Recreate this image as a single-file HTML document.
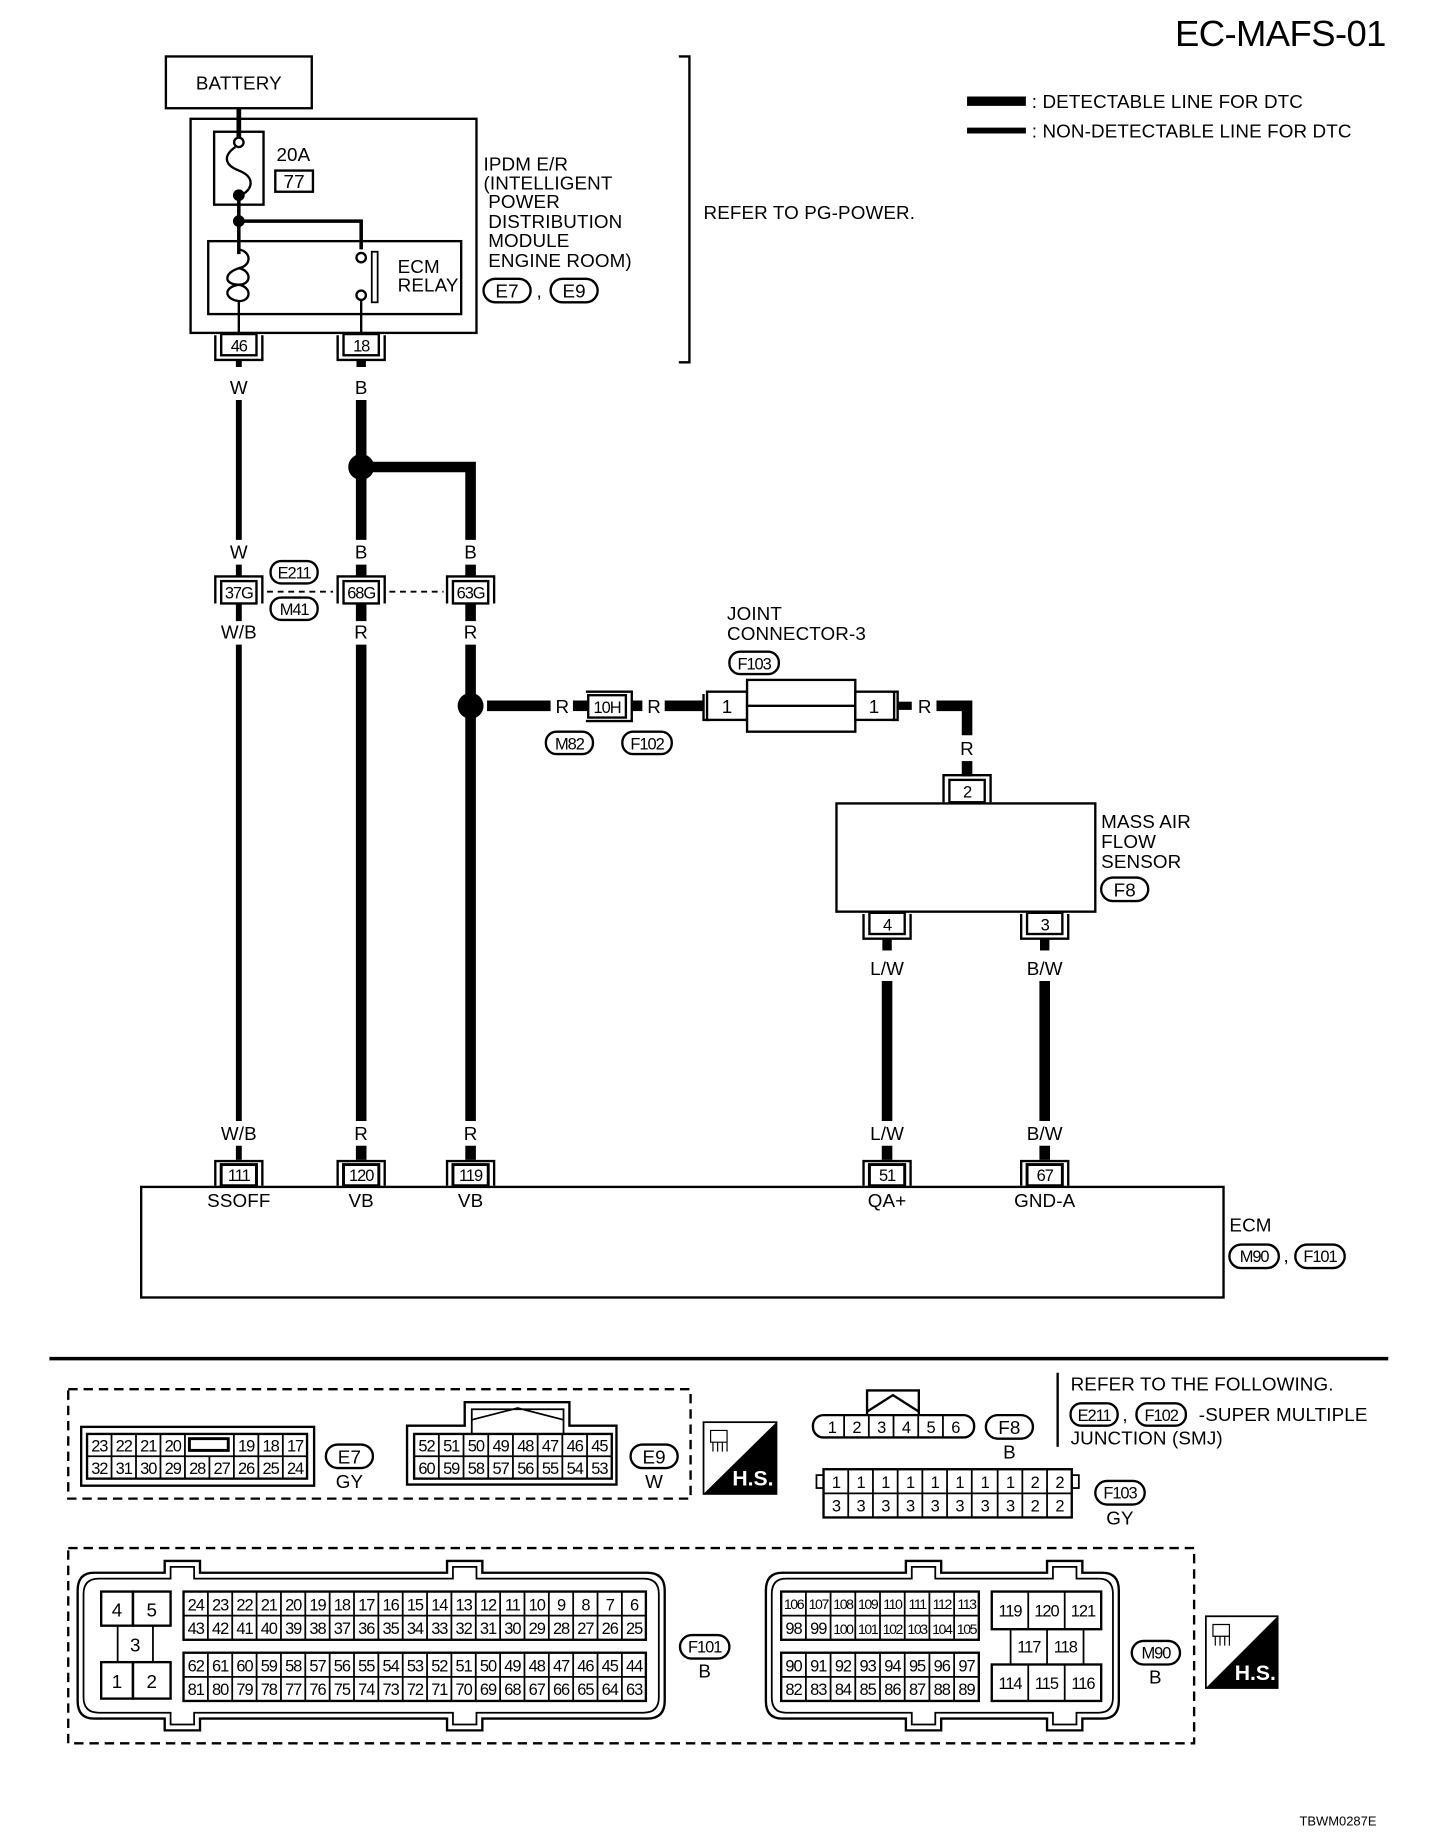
<!DOCTYPE html>
<html><head><meta charset="utf-8">
<style>
html,body{margin:0;padding:0;background:#fff;}
svg{display:block;}
text{font-family:"Liberation Sans",sans-serif;fill:#000;}
.t{font-size:16px;letter-spacing:0.1px;}
.c{font-size:14px;text-anchor:middle;letter-spacing:-0.9px;}
.m{text-anchor:middle;}
</style></head>
<body>
<svg width="1440" height="1848" viewBox="0 0 1224 1571" preserveAspectRatio="none" xmlns="http://www.w3.org/2000/svg">
<defs>
<g id="pd"><path d="M-20,1 V22 H20 V1" fill="none" stroke="#000" stroke-width="2"/><rect x="-15" y="0" width="30" height="18" fill="#fff" stroke="#000" stroke-width="2"/></g>
<g id="pu"><path d="M-20,22 V1 H20 V22" fill="none" stroke="#000" stroke-width="2"/><rect x="-15" y="4" width="30" height="18" fill="#fff" stroke="#000" stroke-width="2.5"/></g>
<g id="pm"><path d="M-20,23 V0 H20 V23" fill="none" stroke="#000" stroke-width="2"/><rect x="-15" y="4" width="30" height="19" fill="#fff" stroke="#000" stroke-width="2"/></g>
</defs>
<text x="1178" y="39" font-size="31" text-anchor="end" letter-spacing="-0.5">EC-MAFS-01</text>
<!-- legend -->
<line x1="822" y1="86" x2="872" y2="86" stroke="#000" stroke-width="8"/>
<line x1="822" y1="111" x2="872" y2="111" stroke="#000" stroke-width="5"/>
<text class="t" x="877" y="92">: DETECTABLE LINE FOR DTC</text>
<text class="t" x="877" y="117">: NON-DETECTABLE LINE FOR DTC</text>

<!-- battery & IPDM -->
<rect x="141" y="48" width="124" height="44" fill="none" stroke="#000" stroke-width="2"/>
<text class="t" x="203" y="76" text-anchor="middle">BATTERY</text>
<line x1="203" y1="92" x2="203" y2="120" stroke="#000" stroke-width="4"/>
<rect x="162" y="101" width="243" height="182" fill="none" stroke="#000" stroke-width="2"/>
<rect x="182" y="112" width="42" height="62" fill="none" stroke="#000" stroke-width="2"/>
<circle cx="203" cy="121" r="4" fill="#fff" stroke="#000" stroke-width="2"/>
<path d="M200,125 C190,132 190,140 203,145 C216,150 216,160 205,166" fill="none" stroke="#000" stroke-width="2"/>
<circle cx="203" cy="166" r="5" fill="#000"/>
<line x1="203" y1="166" x2="203" y2="216" stroke="#000" stroke-width="3"/>
<circle cx="203" cy="188" r="5" fill="#000"/>
<path d="M203,188 H307 V212" fill="none" stroke="#000" stroke-width="3"/>
<text class="t" x="235" y="137">20A</text>
<rect x="234" y="145" width="32" height="18" fill="none" stroke="#000" stroke-width="2"/>
<text class="t" x="250" y="160" text-anchor="middle">77</text>
<rect x="177" y="205" width="215" height="62" fill="none" stroke="#000" stroke-width="2"/>
<path d="M203,205 V212 C214,214 214,226 203,228 C190,232 190,242 203,242 C214,242 214,230 203,228 M203,242 C190,244 190,254 203,256 C214,256 214,244 203,242 M203,256 V283" fill="none" stroke="#000" stroke-width="2"/>
<circle cx="307" cy="219" r="4" fill="#fff" stroke="#000" stroke-width="2"/>
<circle cx="307" cy="251" r="4" fill="#fff" stroke="#000" stroke-width="2"/>
<line x1="307" y1="255" x2="307" y2="283" stroke="#000" stroke-width="2"/>
<rect x="316" y="214" width="5" height="43" fill="none" stroke="#000" stroke-width="1.5"/>
<text class="t" x="338" y="232">ECM</text>
<text class="t" x="338" y="248">RELAY</text>
<text class="t" x="411" y="145">IPDM E/R</text>
<text class="t" x="411" y="161">(INTELLIGENT</text>
<text class="t" x="415" y="177">POWER</text>
<text class="t" x="415" y="194">DISTRIBUTION</text>
<text class="t" x="415" y="210">MODULE</text>
<text class="t" x="415" y="227">ENGINE ROOM)</text>
<rect x="411" y="237" width="40" height="20" rx="10" fill="none" stroke="#000" stroke-width="2"/>
<text class="t m" x="431" y="253">E7</text>
<text class="t" x="456" y="253">,</text>
<rect x="468" y="237" width="40" height="20" rx="10" fill="none" stroke="#000" stroke-width="2"/>
<text class="t m" x="488" y="253">E9</text>
<path d="M577,48 H586 V308 H577" fill="none" stroke="#000" stroke-width="2"/>
<text class="t" x="598" y="186">REFER TO PG-POWER.</text>

<!-- pins 46,18 -->
<use href="#pd" x="203" y="284"/><text class="c" x="203" y="299">46</text>
<use href="#pd" x="307" y="284"/><text class="c" x="307" y="299">18</text>
<line x1="203" y1="306" x2="203" y2="312" stroke="#000" stroke-width="5"/>
<line x1="307" y1="306" x2="307" y2="312" stroke="#000" stroke-width="8"/>
<text class="t m" x="203" y="335">W</text>
<text class="t m" x="307" y="335">B</text>
<line x1="203" y1="340" x2="203" y2="459" stroke="#000" stroke-width="5"/>
<line x1="307" y1="340" x2="307" y2="459" stroke="#000" stroke-width="9"/>
<circle cx="307" cy="397" r="11" fill="#000"/>
<path d="M307,397 H400 V459" fill="none" stroke="#000" stroke-width="9"/>
<text class="t m" x="203" y="475">W</text>
<text class="t m" x="307" y="475">B</text>
<text class="t m" x="400" y="475">B</text>
<line x1="203" y1="480" x2="203" y2="490" stroke="#000" stroke-width="5"/>
<line x1="307" y1="480" x2="307" y2="490" stroke="#000" stroke-width="9"/>
<line x1="400" y1="480" x2="400" y2="490" stroke="#000" stroke-width="9"/>
<line x1="227" y1="503" x2="283" y2="503" stroke="#000" stroke-width="1.5" stroke-dasharray="5,4"/>
<line x1="331" y1="503" x2="377" y2="503" stroke="#000" stroke-width="1.5" stroke-dasharray="5,4"/>
<use href="#pm" x="203" y="490"/><text class="c" x="203" y="509">37G</text>
<use href="#pm" x="307" y="490"/><text class="c" x="307" y="509">68G</text>
<use href="#pm" x="400" y="490"/><text class="c" x="400" y="509">63G</text>
<rect x="230" y="477" width="40" height="19" rx="9" fill="#fff" stroke="#000" stroke-width="2"/><text class="c" x="250" y="492">E211</text>
<rect x="230" y="508" width="40" height="19" rx="9" fill="#fff" stroke="#000" stroke-width="2"/><text class="c" x="250" y="523">M41</text>
<line x1="203" y1="513" x2="203" y2="528" stroke="#000" stroke-width="5"/>
<line x1="307" y1="513" x2="307" y2="528" stroke="#000" stroke-width="9"/>
<line x1="400" y1="513" x2="400" y2="528" stroke="#000" stroke-width="9"/>
<text class="t m" x="203" y="543">W/B</text>
<text class="t m" x="307" y="543">R</text>
<text class="t m" x="400" y="543">R</text>
<line x1="203" y1="548" x2="203" y2="953" stroke="#000" stroke-width="5"/>
<line x1="307" y1="548" x2="307" y2="953" stroke="#000" stroke-width="9"/>
<line x1="400" y1="548" x2="400" y2="953" stroke="#000" stroke-width="9"/>
<circle cx="400" cy="600" r="11" fill="#000"/>
<line x1="414" y1="600" x2="468" y2="600" stroke="#000" stroke-width="9"/>
<text class="t m" x="478" y="606">R</text>
<line x1="487" y1="600" x2="500" y2="600" stroke="#000" stroke-width="9"/>
<path d="M498,588 H537 V613 H498" fill="none" stroke="#000" stroke-width="2"/>
<rect x="500" y="591" width="32" height="19" fill="#fff" stroke="#000" stroke-width="2"/>
<text class="c" x="516" y="606">10H</text>
<line x1="537" y1="600" x2="546" y2="600" stroke="#000" stroke-width="9"/>
<text class="t m" x="556" y="606">R</text>
<line x1="565" y1="600" x2="598" y2="600" stroke="#000" stroke-width="9"/>
<rect x="464" y="622" width="40" height="19" rx="9" fill="none" stroke="#000" stroke-width="2"/><text class="c" x="484" y="637">M82</text>
<rect x="529" y="622" width="42" height="19" rx="9" fill="none" stroke="#000" stroke-width="2"/><text class="c" x="550" y="637">F102</text>
<text class="t" x="618" y="527">JOINT</text>
<text class="t" x="618" y="544">CONNECTOR-3</text>
<rect x="620" y="554" width="42" height="19" rx="9" fill="none" stroke="#000" stroke-width="2"/><text class="c" x="641" y="569">F103</text>
<path d="M598,590 V612 H603" fill="none" stroke="#000" stroke-width="2"/>
<rect x="601" y="588" width="34" height="24" fill="#fff" stroke="#000" stroke-width="2"/><text class="t m" x="618" y="606">1</text>
<rect x="635" y="578" width="92" height="44" fill="#fff" stroke="#000" stroke-width="2"/>
<line x1="635" y1="600" x2="727" y2="600" stroke="#000" stroke-width="2"/>
<rect x="727" y="588" width="33" height="24" fill="#fff" stroke="#000" stroke-width="2"/><text class="t m" x="743" y="606">1</text>
<path d="M758,588 H763 V612 H758" fill="none" stroke="#000" stroke-width="2"/>
<line x1="763" y1="600" x2="775" y2="600" stroke="#000" stroke-width="7"/>
<text class="t m" x="786" y="606">R</text>
<path d="M796,600 H822 V625" fill="none" stroke="#000" stroke-width="9"/>
<text class="t m" x="822" y="642">R</text>
<line x1="822" y1="647" x2="822" y2="660" stroke="#000" stroke-width="9"/>
<use href="#pm" x="822" y="659"/><text class="c" x="822" y="678">2</text>
<rect x="711" y="683" width="220" height="92" fill="#fff" stroke="#000" stroke-width="2"/>
<text class="t" x="936" y="704">MASS AIR</text>
<text class="t" x="936" y="721">FLOW</text>
<text class="t" x="936" y="738">SENSOR</text>
<rect x="936" y="746" width="40" height="20" rx="10" fill="none" stroke="#000" stroke-width="2"/><text class="t m" x="956" y="762">F8</text>
<use href="#pd" x="754" y="776"/><text class="c" x="754" y="791">4</text>
<use href="#pd" x="888" y="776"/><text class="c" x="888" y="791">3</text>
<line x1="754" y1="798" x2="754" y2="808" stroke="#000" stroke-width="8"/>
<line x1="888" y1="798" x2="888" y2="808" stroke="#000" stroke-width="8"/>
<text class="t m" x="754" y="829">L/W</text>
<text class="t m" x="888" y="829">B/W</text>
<line x1="754" y1="834" x2="754" y2="953" stroke="#000" stroke-width="9"/>
<line x1="888" y1="834" x2="888" y2="953" stroke="#000" stroke-width="9"/>
<text class="t m" x="203" y="969">W/B</text>
<text class="t m" x="307" y="969">R</text>
<text class="t m" x="400" y="969">R</text>
<text class="t m" x="754" y="969">L/W</text>
<text class="t m" x="888" y="969">B/W</text>
<line x1="203" y1="974" x2="203" y2="986" stroke="#000" stroke-width="5"/>
<line x1="307" y1="974" x2="307" y2="986" stroke="#000" stroke-width="9"/>
<line x1="400" y1="974" x2="400" y2="986" stroke="#000" stroke-width="9"/>
<line x1="754" y1="974" x2="754" y2="986" stroke="#000" stroke-width="9"/>
<line x1="888" y1="974" x2="888" y2="986" stroke="#000" stroke-width="9"/>
<use href="#pu" x="203" y="986"/><text class="c" x="203" y="1004">111</text>
<use href="#pu" x="307" y="986"/><text class="c" x="307" y="1004">120</text>
<use href="#pu" x="400" y="986"/><text class="c" x="400" y="1004">119</text>
<use href="#pu" x="754" y="986"/><text class="c" x="754" y="1004">51</text>
<use href="#pu" x="888" y="986"/><text class="c" x="888" y="1004">67</text>
<rect x="120" y="1009" width="920" height="94" fill="none" stroke="#000" stroke-width="2"/>
<text class="t m" x="203" y="1026">SSOFF</text>
<text class="t m" x="307" y="1026">VB</text>
<text class="t m" x="400" y="1026">VB</text>
<text class="t m" x="754" y="1026">QA+</text>
<text class="t m" x="888" y="1026">GND-A</text>
<text class="t" x="1045" y="1047">ECM</text>
<rect x="1045" y="1058" width="42" height="20" rx="10" fill="none" stroke="#000" stroke-width="2"/><text class="c" x="1066" y="1073">M90</text>
<text class="t" x="1091" y="1073">,</text>
<rect x="1101" y="1058" width="42" height="20" rx="10" fill="none" stroke="#000" stroke-width="2"/><text class="c" x="1122" y="1073">F101</text>

<line x1="42" y1="1155" x2="1180" y2="1155" stroke="#000" stroke-width="3"/>

<rect x="58" y="1181" width="529" height="93" fill="none" stroke="#000" stroke-width="2" stroke-dasharray="8,5"/>
<rect x="58" y="1316" width="957" height="166" fill="none" stroke="#000" stroke-width="2" stroke-dasharray="8,5"/>

<!-- E7 -->
<rect x="69" y="1213" width="198" height="50" fill="none" stroke="#000" stroke-width="2"/>
<rect x="74" y="1219" width="187" height="38" fill="none" stroke="#000" stroke-width="2"/>
<path d="M74,1238 H261 M94.8,1219 V1257 M115.6,1219 V1257 M136.4,1219 V1257 M157.2,1219 V1257 M178,1238 V1257 M198.8,1219 V1257 M219.6,1219 V1257 M240.4,1219 V1257" stroke="#000" stroke-width="1.5" fill="none"/>
<rect x="161" y="1223" width="33" height="10" fill="none" stroke="#000" stroke-width="2.5"/>
<text class="c" x="84.4" y="1234">23</text><text class="c" x="105.2" y="1234">22</text><text class="c" x="126" y="1234">21</text><text class="c" x="146.8" y="1234">20</text><text class="c" x="209.2" y="1234">19</text><text class="c" x="230" y="1234">18</text><text class="c" x="250.8" y="1234">17</text>
<text class="c" x="84.4" y="1253">32</text><text class="c" x="105.2" y="1253">31</text><text class="c" x="126" y="1253">30</text><text class="c" x="146.8" y="1253">29</text><text class="c" x="167.6" y="1253">28</text><text class="c" x="188.4" y="1253">27</text><text class="c" x="209.2" y="1253">26</text><text class="c" x="230" y="1253">25</text><text class="c" x="250.8" y="1253">24</text>
<rect x="277" y="1228" width="40" height="20" rx="10" fill="none" stroke="#000" stroke-width="2"/><text class="t m" x="297" y="1244">E7</text>
<text class="t m" x="297" y="1265">GY</text>

<!-- E9 -->
<path d="M346,1262 V1212 H395 V1192 H484 V1212 H524 V1262 Z" fill="none" stroke="#000" stroke-width="2"/>
<path d="M401,1219 V1198 H479 V1219 M401,1207 L440,1197 L479,1207" fill="none" stroke="#000" stroke-width="1.5"/>
<rect x="352" y="1219" width="168" height="38" fill="#fff" stroke="#000" stroke-width="2"/>
<path d="M352,1238 H520 M373,1219 V1257 M394,1219 V1257 M415,1219 V1257 M436,1219 V1257 M457,1219 V1257 M478,1219 V1257 M499,1219 V1257" stroke="#000" stroke-width="1.5" fill="none"/>
<text class="c" x="362.5" y="1234">52</text><text class="c" x="383.5" y="1234">51</text><text class="c" x="404.5" y="1234">50</text><text class="c" x="425.5" y="1234">49</text><text class="c" x="446.5" y="1234">48</text><text class="c" x="467.5" y="1234">47</text><text class="c" x="488.5" y="1234">46</text><text class="c" x="509.5" y="1234">45</text>
<text class="c" x="362.5" y="1253">60</text><text class="c" x="383.5" y="1253">59</text><text class="c" x="404.5" y="1253">58</text><text class="c" x="425.5" y="1253">57</text><text class="c" x="446.5" y="1253">56</text><text class="c" x="467.5" y="1253">55</text><text class="c" x="488.5" y="1253">54</text><text class="c" x="509.5" y="1253">53</text>
<rect x="536" y="1228" width="40" height="20" rx="10" fill="none" stroke="#000" stroke-width="2"/><text class="t m" x="556" y="1244">E9</text>
<text class="t m" x="556" y="1265">W</text>

<!-- HS icon 1 -->
<rect x="598" y="1209" width="62" height="61" fill="#fff" stroke="#000" stroke-width="1.5"/>
<polygon points="660,1209 660,1270 598,1270" fill="#000"/>
<text x="640" y="1263" font-size="18" font-weight="bold" text-anchor="middle" style="fill:#fff">H.S.</text>
<path d="M604,1216 h14 v10 h-14 z M606,1226 v8 M610,1226 v8 M614,1226 v8 M618,1226 v8" fill="none" stroke="#000" stroke-width="1"/>

<!-- F8 -->
<path d="M737,1203 V1182 H781 V1203 M737,1200 L759,1186 L781,1200" fill="none" stroke="#000" stroke-width="2"/>
<rect x="691" y="1203" width="137" height="19" rx="9" fill="none" stroke="#000" stroke-width="2"/>
<path d="M717.5,1203 V1222 M738.5,1203 V1222 M759.5,1203 V1222 M780.5,1203 V1222 M801.5,1203 V1222" stroke="#000" stroke-width="1.5"/>
<text class="c" x="707" y="1218">1</text><text class="c" x="728" y="1218">2</text><text class="c" x="749" y="1218">3</text><text class="c" x="770" y="1218">4</text><text class="c" x="791" y="1218">5</text><text class="c" x="812" y="1218">6</text>
<rect x="838" y="1203" width="40" height="20" rx="10" fill="none" stroke="#000" stroke-width="2"/><text class="t m" x="858" y="1219">F8</text>
<text class="t m" x="858" y="1240">B</text>

<line x1="899" y1="1167" x2="899" y2="1230" stroke="#000" stroke-width="2"/>
<text class="t" x="910" y="1182">REFER TO THE FOLLOWING.</text>
<rect x="910" y="1193" width="40" height="19" rx="9" fill="none" stroke="#000" stroke-width="2"/><text class="c" x="930" y="1208">E211</text>
<text class="t" x="954" y="1208">,</text>
<rect x="966" y="1193" width="42" height="19" rx="9" fill="none" stroke="#000" stroke-width="2"/><text class="c" x="987" y="1208">F102</text>
<text class="t" x="1019" y="1208">-SUPER MULTIPLE</text>
<text class="t" x="910" y="1228">JUNCTION (SMJ)</text>

<!-- F103 -->
<rect x="694" y="1254" width="6" height="11" fill="none" stroke="#000" stroke-width="1.5"/>
<rect x="911" y="1254" width="6" height="11" fill="none" stroke="#000" stroke-width="1.5"/>
<rect x="700" y="1249" width="211" height="41" fill="none" stroke="#000" stroke-width="2"/>
<path d="M700,1269.5 H911 M721,1249 V1290 M742,1249 V1290 M763,1249 V1290 M784,1249 V1290 M805,1249 V1290 M826,1249 V1290 M848,1249 V1290 M869,1249 V1290 M890,1249 V1290" stroke="#000" stroke-width="1.5"/>
<text class="c" x="710.5" y="1265">1</text><text class="c" x="731.5" y="1265">1</text><text class="c" x="752.5" y="1265">1</text><text class="c" x="773.5" y="1265">1</text><text class="c" x="794.5" y="1265">1</text><text class="c" x="815.5" y="1265">1</text><text class="c" x="837" y="1265">1</text><text class="c" x="858.5" y="1265">1</text><text class="c" x="879.5" y="1265">2</text><text class="c" x="900.5" y="1265">2</text>
<text class="c" x="710.5" y="1285">3</text><text class="c" x="731.5" y="1285">3</text><text class="c" x="752.5" y="1285">3</text><text class="c" x="773.5" y="1285">3</text><text class="c" x="794.5" y="1285">3</text><text class="c" x="815.5" y="1285">3</text><text class="c" x="837" y="1285">3</text><text class="c" x="858.5" y="1285">3</text><text class="c" x="879.5" y="1285">2</text><text class="c" x="900.5" y="1285">2</text>
<rect x="931" y="1259" width="42" height="20" rx="10" fill="none" stroke="#000" stroke-width="2"/><text class="c" x="952" y="1274">F103</text>
<text class="t m" x="952" y="1296">GY</text>

<!-- F101 -->
<path d="M80,1337 H140 V1327 H170 V1337 H380 V1327 H410 V1337 H550 Q565,1337 565,1352 V1446 Q565,1461 550,1461 H410 V1471 H380 V1461 H170 V1471 H140 V1461 H80 Q66,1461 66,1446 V1352 Q66,1337 80,1337 Z" fill="none" stroke="#000" stroke-width="2"/>
<path d="M84,1342 H145 V1332 H165 V1342 H385 V1332 H405 V1342 H547 Q560,1342 560,1355 V1443 Q560,1456 547,1456 H405 V1466 H385 V1456 H165 V1466 H145 V1456 H84 Q71,1456 71,1443 V1355 Q71,1342 84,1342 Z" fill="none" stroke="#000" stroke-width="1.5"/>
<rect x="86" y="1353" width="27" height="29" fill="none" stroke="#000" stroke-width="2"/>
<rect x="113" y="1353" width="32" height="29" fill="none" stroke="#000" stroke-width="2"/>
<rect x="100" y="1382" width="30" height="31" fill="none" stroke="#000" stroke-width="1.5"/>
<rect x="86" y="1413" width="27" height="31" fill="none" stroke="#000" stroke-width="2"/>
<rect x="113" y="1413" width="32" height="31" fill="none" stroke="#000" stroke-width="2"/>
<text class="t m" x="99.5" y="1374">4</text><text class="t m" x="129" y="1374">5</text><text class="t m" x="115" y="1404">3</text><text class="t m" x="99.5" y="1435">1</text><text class="t m" x="129" y="1435">2</text>
<rect x="156" y="1353" width="393" height="41" fill="none" stroke="#000" stroke-width="2"/>
<rect x="156" y="1405" width="393" height="41" fill="none" stroke="#000" stroke-width="2"/>
<path d="M156,1373.5 H549 M156,1425.5 H549 M176.7,1353 V1394 M197.4,1353 V1394 M218.1,1353 V1394 M238.8,1353 V1394 M259.5,1353 V1394 M280.2,1353 V1394 M300.9,1353 V1394 M321.6,1353 V1394 M342.3,1353 V1394 M363,1353 V1394 M383.7,1353 V1394 M404.4,1353 V1394 M425.1,1353 V1394 M445.8,1353 V1394 M466.5,1353 V1394 M487.2,1353 V1394 M507.9,1353 V1394 M528.6,1353 V1394 M176.7,1405 V1446 M197.4,1405 V1446 M218.1,1405 V1446 M238.8,1405 V1446 M259.5,1405 V1446 M280.2,1405 V1446 M300.9,1405 V1446 M321.6,1405 V1446 M342.3,1405 V1446 M363,1405 V1446 M383.7,1405 V1446 M404.4,1405 V1446 M425.1,1405 V1446 M445.8,1405 V1446 M466.5,1405 V1446 M487.2,1405 V1446 M507.9,1405 V1446 M528.6,1405 V1446" stroke="#000" stroke-width="1.5" fill="none"/>
<text class="c" x="166.4" y="1369">24</text><text class="c" x="187.1" y="1369">23</text><text class="c" x="207.8" y="1369">22</text><text class="c" x="228.5" y="1369">21</text><text class="c" x="249.2" y="1369">20</text><text class="c" x="269.9" y="1369">19</text><text class="c" x="290.6" y="1369">18</text><text class="c" x="311.3" y="1369">17</text><text class="c" x="332" y="1369">16</text><text class="c" x="352.7" y="1369">15</text><text class="c" x="373.4" y="1369">14</text><text class="c" x="394.1" y="1369">13</text><text class="c" x="414.8" y="1369">12</text><text class="c" x="435.5" y="1369">11</text><text class="c" x="456.2" y="1369">10</text><text class="c" x="476.9" y="1369">9</text><text class="c" x="497.6" y="1369">8</text><text class="c" x="518.3" y="1369">7</text><text class="c" x="539" y="1369">6</text>
<text class="c" x="166.4" y="1389">43</text><text class="c" x="187.1" y="1389">42</text><text class="c" x="207.8" y="1389">41</text><text class="c" x="228.5" y="1389">40</text><text class="c" x="249.2" y="1389">39</text><text class="c" x="269.9" y="1389">38</text><text class="c" x="290.6" y="1389">37</text><text class="c" x="311.3" y="1389">36</text><text class="c" x="332" y="1389">35</text><text class="c" x="352.7" y="1389">34</text><text class="c" x="373.4" y="1389">33</text><text class="c" x="394.1" y="1389">32</text><text class="c" x="414.8" y="1389">31</text><text class="c" x="435.5" y="1389">30</text><text class="c" x="456.2" y="1389">29</text><text class="c" x="476.9" y="1389">28</text><text class="c" x="497.6" y="1389">27</text><text class="c" x="518.3" y="1389">26</text><text class="c" x="539" y="1389">25</text>
<text class="c" x="166.4" y="1421">62</text><text class="c" x="187.1" y="1421">61</text><text class="c" x="207.8" y="1421">60</text><text class="c" x="228.5" y="1421">59</text><text class="c" x="249.2" y="1421">58</text><text class="c" x="269.9" y="1421">57</text><text class="c" x="290.6" y="1421">56</text><text class="c" x="311.3" y="1421">55</text><text class="c" x="332" y="1421">54</text><text class="c" x="352.7" y="1421">53</text><text class="c" x="373.4" y="1421">52</text><text class="c" x="394.1" y="1421">51</text><text class="c" x="414.8" y="1421">50</text><text class="c" x="435.5" y="1421">49</text><text class="c" x="456.2" y="1421">48</text><text class="c" x="476.9" y="1421">47</text><text class="c" x="497.6" y="1421">46</text><text class="c" x="518.3" y="1421">45</text><text class="c" x="539" y="1421">44</text>
<text class="c" x="166.4" y="1441">81</text><text class="c" x="187.1" y="1441">80</text><text class="c" x="207.8" y="1441">79</text><text class="c" x="228.5" y="1441">78</text><text class="c" x="249.2" y="1441">77</text><text class="c" x="269.9" y="1441">76</text><text class="c" x="290.6" y="1441">75</text><text class="c" x="311.3" y="1441">74</text><text class="c" x="332" y="1441">73</text><text class="c" x="352.7" y="1441">72</text><text class="c" x="373.4" y="1441">71</text><text class="c" x="394.1" y="1441">70</text><text class="c" x="414.8" y="1441">69</text><text class="c" x="435.5" y="1441">68</text><text class="c" x="456.2" y="1441">67</text><text class="c" x="476.9" y="1441">66</text><text class="c" x="497.6" y="1441">65</text><text class="c" x="518.3" y="1441">64</text><text class="c" x="539" y="1441">63</text>
<rect x="578" y="1390" width="42" height="20" rx="10" fill="none" stroke="#000" stroke-width="2"/><text class="c" x="599" y="1405">F101</text>
<text class="t m" x="599" y="1426">B</text>

<!-- M90 -->
<path d="M665,1337 H770 V1327 H800 V1337 H890 V1327 H920 V1337 H937 Q951,1337 951,1352 V1446 Q951,1461 937,1461 H920 V1471 H890 V1461 H800 V1471 H770 V1461 H665 Q651,1461 651,1446 V1352 Q651,1337 665,1337 Z" fill="none" stroke="#000" stroke-width="2"/>
<path d="M668,1342 H775 V1332 H795 V1342 H895 V1332 H915 V1342 H934 Q946,1342 946,1355 V1443 Q946,1456 934,1456 H915 V1466 H895 V1456 H795 V1466 H775 V1456 H668 Q656,1456 656,1443 V1355 Q656,1342 668,1342 Z" fill="none" stroke="#000" stroke-width="1.5"/>
<rect x="664" y="1353" width="168" height="41" fill="none" stroke="#000" stroke-width="2"/>
<rect x="664" y="1405" width="168" height="41" fill="none" stroke="#000" stroke-width="2"/>
<path d="M664,1373.5 H832 M664,1425.5 H832 M685,1353 V1394 M706,1353 V1394 M727,1353 V1394 M748,1353 V1394 M769,1353 V1394 M790,1353 V1394 M811,1353 V1394 M685,1405 V1446 M706,1405 V1446 M727,1405 V1446 M748,1405 V1446 M769,1405 V1446 M790,1405 V1446 M811,1405 V1446" stroke="#000" stroke-width="1.5" fill="none"/>
<text class="c" x="674.5" y="1368" style="font-size:12px;letter-spacing:-1.2px">106</text><text class="c" x="695.5" y="1368" style="font-size:12px;letter-spacing:-1.2px">107</text><text class="c" x="716.5" y="1368" style="font-size:12px;letter-spacing:-1.2px">108</text><text class="c" x="737.5" y="1368" style="font-size:12px;letter-spacing:-1.2px">109</text><text class="c" x="758.5" y="1368" style="font-size:12px;letter-spacing:-1.2px">110</text><text class="c" x="779.5" y="1368" style="font-size:12px;letter-spacing:-1.2px">111</text><text class="c" x="800.5" y="1368" style="font-size:12px;letter-spacing:-1.2px">112</text><text class="c" x="821.5" y="1368" style="font-size:12px;letter-spacing:-1.2px">113</text>
<text class="c" x="674.5" y="1389">98</text><text class="c" x="695.5" y="1389">99</text><text class="c" x="716.5" y="1389" style="font-size:12px;letter-spacing:-1.2px">100</text><text class="c" x="737.5" y="1389" style="font-size:12px;letter-spacing:-1.2px">101</text><text class="c" x="758.5" y="1389" style="font-size:12px;letter-spacing:-1.2px">102</text><text class="c" x="779.5" y="1389" style="font-size:12px;letter-spacing:-1.2px">103</text><text class="c" x="800.5" y="1389" style="font-size:12px;letter-spacing:-1.2px">104</text><text class="c" x="821.5" y="1389" style="font-size:12px;letter-spacing:-1.2px">105</text>
<text class="c" x="674.5" y="1421">90</text><text class="c" x="695.5" y="1421">91</text><text class="c" x="716.5" y="1421">92</text><text class="c" x="737.5" y="1421">93</text><text class="c" x="758.5" y="1421">94</text><text class="c" x="779.5" y="1421">95</text><text class="c" x="800.5" y="1421">96</text><text class="c" x="821.5" y="1421">97</text>
<text class="c" x="674.5" y="1441">82</text><text class="c" x="695.5" y="1441">83</text><text class="c" x="716.5" y="1441">84</text><text class="c" x="737.5" y="1441">85</text><text class="c" x="758.5" y="1441">86</text><text class="c" x="779.5" y="1441">87</text><text class="c" x="800.5" y="1441">88</text><text class="c" x="821.5" y="1441">89</text>
<rect x="843" y="1353" width="93" height="32" fill="none" stroke="#000" stroke-width="2"/>
<path d="M874,1353 V1385 M905,1353 V1385" stroke="#000" stroke-width="1.5"/>
<rect x="859" y="1385" width="62" height="30" fill="none" stroke="#000" stroke-width="1.5"/>
<line x1="890" y1="1385" x2="890" y2="1415" stroke="#000" stroke-width="1.5"/>
<rect x="843" y="1415" width="93" height="31" fill="none" stroke="#000" stroke-width="2"/>
<path d="M874,1415 V1446 M905,1415 V1446" stroke="#000" stroke-width="1.5"/>
<text class="c" x="858.5" y="1374">119</text><text class="c" x="889.5" y="1374">120</text><text class="c" x="920.5" y="1374">121</text>
<text class="c" x="874.5" y="1405">117</text><text class="c" x="905.5" y="1405">118</text>
<text class="c" x="858.5" y="1436">114</text><text class="c" x="889.5" y="1436">115</text><text class="c" x="920.5" y="1436">116</text>
<rect x="962" y="1395" width="41" height="20" rx="10" fill="none" stroke="#000" stroke-width="2"/><text class="c" x="982.5" y="1410">M90</text>
<text class="t m" x="982" y="1431">B</text>

<!-- HS icon 2 -->
<rect x="1025" y="1374" width="61" height="61" fill="#fff" stroke="#000" stroke-width="1.5"/>
<polygon points="1086,1374 1086,1435 1025,1435" fill="#000"/>
<text x="1067" y="1428" font-size="18" font-weight="bold" text-anchor="middle" style="fill:#fff">H.S.</text>
<path d="M1031,1381 h14 v10 h-14 z M1033,1391 v8 M1037,1391 v8 M1041,1391 v8 M1045,1391 v8" fill="none" stroke="#000" stroke-width="1"/>

<text x="1170" y="1552" font-size="11" text-anchor="end">TBWM0287E</text>
</svg>
</body></html>
